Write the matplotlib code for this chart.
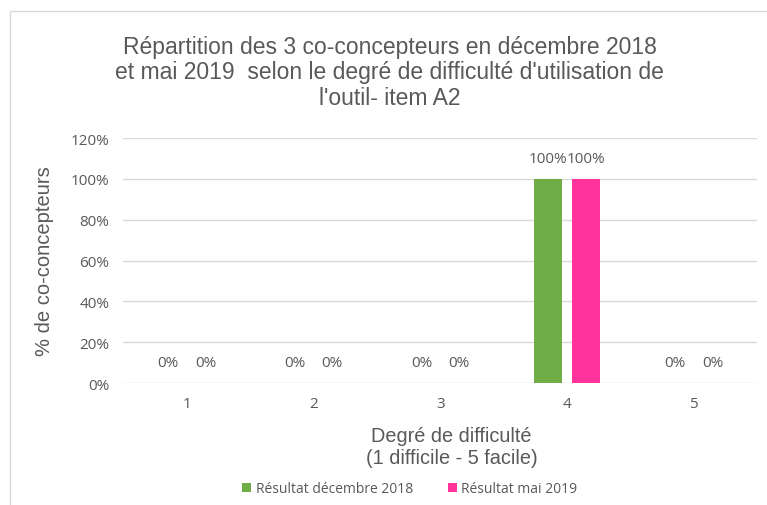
import numpy as np
import matplotlib.pyplot as plt
from matplotlib.patches import Rectangle

# Degrés de difficulté et résultats (part des co-concepteurs)
degres = ["1", "2", "3", "4", "5"]
resultat_dec_2018 = [0.0, 0.0, 0.0, 1.0, 0.0]
resultat_mai_2019 = [0.0, 0.0, 0.0, 1.0, 0.0]
series = ["Résultat décembre 2018", "Résultat mai 2019"]

couleurs = ["#70AD47", "#FF3399"]
gris = "#595959"
police_petite = ['Open Sans', 'DejaVu Sans']

plt.rcParams['font.family'] = ['Liberation Sans', 'DejaVu Sans']

fig = plt.figure(figsize=(7.67, 5.06), dpi=100)
ax = fig.add_axes([0.161, 0.241, 0.826, 0.484])

# Cadre du graphique
fig.patches.append(Rectangle((10 / 767, -0.05), 1.0, 1 - 12 / 506 + 0.05,
                             transform=fig.transFigure, fill=False,
                             edgecolor="#D9D9D9", linewidth=1.0))

x = np.arange(1, len(degres) + 1)
largeur = 0.22
decalage = 0.148

for vals, dx, coul, nom in zip([resultat_dec_2018, resultat_mai_2019],
                               [-decalage, decalage], couleurs, series):
    barres = ax.bar(x + dx, vals, width=largeur, color=coul, label=nom, zorder=3)
    for b, v in zip(barres, vals):
        ax.text(b.get_x() + b.get_width() / 2, v + 0.10, f"{v:.0%}",
                ha="center", va="center", fontsize=11, color=gris,
                family=police_petite)

ax.set_xlim(0.5, 5.5)
ax.set_ylim(0, 1.2)
ax.set_yticks(np.arange(0, 1.21, 0.2))
ax.set_yticklabels([f"{int(round(v * 100))}%" for v in np.arange(0, 1.21, 0.2)])
ax.set_xticks(x)
ax.set_xticklabels(degres)
ax.grid(axis="y", color="#D9D9D9", linewidth=1.0, zorder=0)
for s in ax.spines.values():
    s.set_visible(False)
ax.tick_params(length=0, colors=gris, labelsize=11)
ax.tick_params(axis="y", pad=10)
ax.tick_params(axis="x", pad=9)
for lab in ax.get_xticklabels() + ax.get_yticklabels():
    lab.set_family(police_petite)

ax.set_ylabel("% de co-concepteurs", fontsize=14.5, color=gris)
ax.yaxis.set_label_coords(-0.110, 0.5)
ax.set_xlabel("Degré de difficulté\n(1 difficile - 5 facile)", fontsize=14.3,
              color=gris, linespacing=1.2)
ax.xaxis.set_label_coords(0.518, -0.175)

fig.text(0.508, 0.856, "Répartition des 3 co-concepteurs en décembre 2018\n"
         "et mai 2019  selon le degré de difficulté d'utilisation de\n"
         "l'outil- item A2", ha="center", va="center", fontsize=16.5,
         color=gris, linespacing=1.15)

fig.legend(loc="center", bbox_to_anchor=(0.534, 0.032), ncol=2, frameon=False,
           handlelength=0.7, handleheight=0.7, handletextpad=0.3,
           columnspacing=2.5, labelcolor=gris,
           prop={'family': police_petite, 'size': 10})

plt.savefig("out.png", dpi=100)
